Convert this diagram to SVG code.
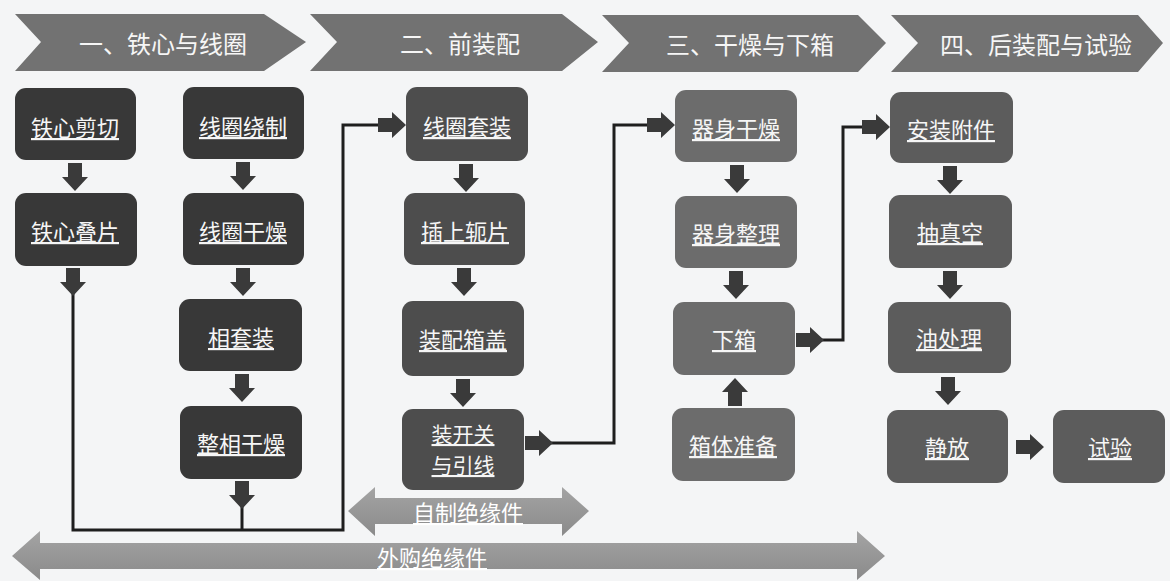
<svg xmlns="http://www.w3.org/2000/svg" xmlns:xlink="http://www.w3.org/1999/xlink" width="1170" height="581" viewBox="0 0 1170 581">
<style>
.chev{fill:#727272;}
.chevt{font-family:"Noto Sans CJK SC","Noto Sans",sans-serif;font-size:24px;fill:#f6f6f6;text-anchor:middle;dominant-baseline:central;}
.n1{fill:#383838;}
.n2{fill:#4d4d4d;}
.n3{fill:#6c6c6c;}
.n4{fill:#5c5c5c;}
.nt{font-family:"Noto Sans CJK SC","Noto Sans",sans-serif;font-size:22px;fill:#f6f6f6;text-anchor:middle;dominant-baseline:central;text-decoration:underline;}
.nt2{font-family:"Noto Sans CJK SC","Noto Sans",sans-serif;font-size:21px;fill:#f6f6f6;text-anchor:middle;dominant-baseline:central;text-decoration:underline;}
.ln{fill:none;stroke:#1e1e1e;stroke-width:3;}
.ar{fill:#3a3a3a;}
.big{fill:url(#gg);}
.bt{font-family:"Noto Sans CJK SC","Noto Sans",sans-serif;font-size:22px;fill:#ffffff;text-anchor:middle;dominant-baseline:central;text-decoration:underline;}
</style>
<defs>
<path id="blk" d="M-7,0 H7 V14 H13 L0,28 L-13,14 H-7 Z"/>
<linearGradient id="gg" x1="0" y1="0" x2="0" y2="1">
<stop offset="0" stop-color="#a4a4a4"/>
<stop offset="1" stop-color="#8a8a8a"/>
</linearGradient>
</defs>
<rect width="1170" height="581" fill="#f4f5f6"/>

<g id="stages">
<g id="stage1"><polygon class="chev" points="15,14 264,14 306,42 264,71 15,71 41,42"/><text class="chevt" x="163" y="42">一、铁心与线圈</text></g>
<g id="stage2"><polygon class="chev" points="310,14 562,14 598,42 562,71 310,71 337,42"/><text class="chevt" x="460" y="42">二、前装配</text></g>
<g id="stage3"><polygon class="chev" points="602,15 858,15 886,43 858,72 602,72 629,43"/><text class="chevt" x="750" y="43">三、干燥与下箱</text></g>
<g id="stage4"><polygon class="chev" points="891,15 1138,15 1163,43 1138,72 891,72 918,43"/><text class="chevt" x="1036" y="43">四、后装配与试验</text></g>
</g>

<g id="connectors">
<polyline class="ln" points="73,292 73,530 343,530 343,125 380,125"/>
<polyline class="ln" points="242,505 242,530"/>
<polyline class="ln" points="548,443 614,443 614,125 650,125"/>
<polyline class="ln" points="820,340 843,340 843,127 864,127"/>
<use href="#blk" class="ar" transform="translate(75,163)"/>
<use href="#blk" class="ar" transform="translate(73,268)"/>
<use href="#blk" class="ar" transform="translate(243,162)"/>
<use href="#blk" class="ar" transform="translate(243,268)"/>
<use href="#blk" class="ar" transform="translate(242,374)"/>
<use href="#blk" class="ar" transform="translate(242,481)"/>
<use href="#blk" class="ar" transform="translate(378,125) rotate(-90)"/>
<use href="#blk" class="ar" transform="translate(466,164)"/>
<use href="#blk" class="ar" transform="translate(464,268)"/>
<use href="#blk" class="ar" transform="translate(463,379)"/>
<use href="#blk" class="ar" transform="translate(525,443) rotate(-90)"/>
<use href="#blk" class="ar" transform="translate(647,125) rotate(-90)"/>
<use href="#blk" class="ar" transform="translate(737,165)"/>
<use href="#blk" class="ar" transform="translate(736,271)"/>
<use href="#blk" class="ar" transform="translate(735,406) rotate(180)"/>
<use href="#blk" class="ar" transform="translate(796,340) rotate(-90)"/>
<use href="#blk" class="ar" transform="translate(862,127) rotate(-90)"/>
<use href="#blk" class="ar" transform="translate(950,166)"/>
<use href="#blk" class="ar" transform="translate(950,271)"/>
<use href="#blk" class="ar" transform="translate(948,377)"/>
<use href="#blk" class="ar" transform="translate(1016,447) rotate(-90)"/>
</g>

<g id="n-tiexin-jianqie"><rect class="n1" x="15" y="88" width="121" height="72" rx="11"/><text class="nt" x="75" y="126">铁心剪切</text></g>
<g id="n-tiexin-diepian"><rect class="n1" x="15" y="193" width="122" height="73" rx="11"/><text class="nt" x="75" y="230">铁心叠片</text></g>
<g id="n-xianquan-raozhi"><rect class="n1" x="183" y="87" width="121" height="72" rx="11"/><text class="nt" x="243" y="125">线圈绕制</text></g>
<g id="n-xianquan-ganzao"><rect class="n1" x="183" y="193" width="121" height="72" rx="11"/><text class="nt" x="243" y="230">线圈干燥</text></g>
<g id="n-xiangtaozhuang"><rect class="n1" x="179" y="299" width="123" height="72" rx="11"/><text class="nt" x="241" y="336">相套装</text></g>
<g id="n-zhengxiang-ganzao"><rect class="n1" x="180" y="406" width="122" height="73" rx="11"/><text class="nt" x="241" y="442">整相干燥</text></g>

<g id="n-xianquan-taozhuang"><rect class="n2" x="406" y="87" width="122" height="74" rx="11"/><text class="nt" x="467" y="125">线圈套装</text></g>
<g id="n-chashang-epian"><rect class="n2" x="404" y="193" width="121" height="72" rx="11"/><text class="nt" x="465" y="230">插上轭片</text></g>
<g id="n-zhuangpei-xianggai"><rect class="n2" x="402" y="301" width="122" height="75" rx="11"/><text class="nt" x="463" y="338">装配箱盖</text></g>
<g id="n-zhuang-kaiguan"><rect class="n2" x="402" y="409" width="122" height="81" rx="11"/><text class="nt2" x="463" y="433">装开关</text><text class="nt2" x="463" y="464">与引线</text></g>

<g id="n-qishen-ganzao"><rect class="n3" x="675" y="90" width="122" height="72" rx="11"/><text class="nt" x="736" y="127">器身干燥</text></g>
<g id="n-qishen-zhengli"><rect class="n3" x="675" y="196" width="122" height="72" rx="11"/><text class="nt" x="736" y="232">器身整理</text></g>
<g id="n-xiaxiang"><rect class="n3" x="673" y="302" width="122" height="73" rx="11"/><text class="nt" x="734" y="338">下箱</text></g>
<g id="n-xiangti-zhunbei"><rect class="n3" x="672" y="408" width="123" height="73" rx="11"/><text class="nt" x="733" y="444">箱体准备</text></g>

<g id="n-anzhuang-fujian"><rect class="n4" x="890" y="92" width="123" height="71" rx="11"/><text class="nt" x="951" y="128">安装附件</text></g>
<g id="n-chou-zhenkong"><rect class="n4" x="889" y="195" width="123" height="73" rx="11"/><text class="nt" x="950" y="231">抽真空</text></g>
<g id="n-you-chuli"><rect class="n4" x="888" y="302" width="123" height="71" rx="11"/><text class="nt" x="949" y="337">油处理</text></g>
<g id="n-jingfang"><rect class="n4" x="887" y="410" width="121" height="73" rx="11"/><text class="nt" x="947" y="446">静放</text></g>
<g id="n-shiyan"><rect class="n4" x="1053" y="410" width="112" height="73" rx="11"/><text class="nt" x="1110" y="446">试验</text></g>

<g id="n-zizhi-jueyuanjian"><polygon class="big" points="348,511 375,487 375,498 562,498 562,487 589,511 562,536 562,524 375,524 375,536"/><text class="bt" x="468" y="511">自制绝缘件</text></g>
<g id="n-waigou-jueyuanjian"><polygon class="big" points="12,556 40,531 40,543 857,543 857,531 885,556 857,580 857,569 40,569 40,580"/><text class="bt" x="432" y="556">外购绝缘件</text></g>
</svg>
